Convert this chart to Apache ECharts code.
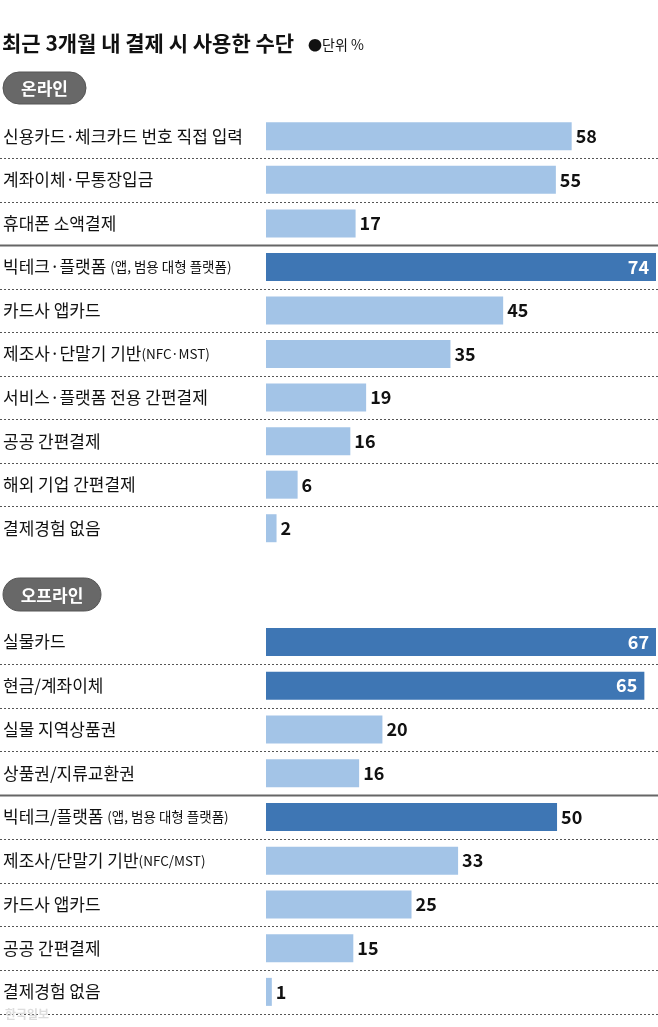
<!DOCTYPE html>
<html>
<head>
<meta charset="utf-8">
<script src="https://cdn.jsdelivr.net/npm/echarts@6/dist/echarts.min.js"></script>
<style>
  html, body { margin: 0; padding: 0; background: #fff; }
  #chart { width: 658px; height: 1027px; }
</style>
</head>
<body>
<div id="chart"></div>
<script>
// 데이터
const onlineNames = [
  '신용카드·체크카드 번호 직접 입력',
  '계좌이체·무통장입금',
  '휴대폰 소액결제',
  '빅테크·플랫폼 (앱, 범용 대형 플랫폼)',
  '카드사 앱카드',
  '제조사·단말기 기반(NFC·MST)',
  '서비스·플랫폼 전용 간편결제',
  '공공 간편결제',
  '해외 기업 간편결제',
  '결제경험 없음'
];
const onlineValues = [58, 55, 17, 74, 45, 35, 19, 16, 6, 2];

const offlineNames = [
  '실물카드',
  '현금/계좌이체',
  '실물 지역상품권',
  '상품권/지류교환권',
  '빅테크/플랫폼 (앱, 범용 대형 플랫폼)',
  '제조사/단말기 기반(NFC/MST)',
  '카드사 앱카드',
  '공공 간편결제',
  '결제경험 없음'
];
const offlineValues = [67, 65, 20, 16, 50, 33, 25, 15, 1];

// 진한 색으로 강조되는 항목
const onlineDark = ['빅테크·플랫폼 (앱, 범용 대형 플랫폼)'];
const offlineDark = ['실물카드', '현금/계좌이체', '빅테크/플랫폼 (앱, 범용 대형 플랫폼)'];

const FONT = "'Noto Sans CJK KR', 'Noto Sans', sans-serif";
const LIGHT = '#a3c4e7';
const DARK = '#3e76b4';

// 레이아웃
const W = 658;
const GRID_LEFT = 265;
const GRID_RIGHT = 2;
const TOP1 = 114.5, ROW1 = 43.55;
const TOP2 = 620, ROW2 = 43.75;

function labelFormatter(name) {
  const i = name.indexOf('(');
  if (i < 0) return '{a|' + name + '}';
  return '{a|' + name.slice(0, i) + '}{b|' + name.slice(i) + '}';
}

function buildData(names, values, darkList, max) {
  return values.map((v, i) => {
    const dark = darkList.includes(names[i]);
    const inside = dark && v / max > 0.9;
    return {
      value: v,
      itemStyle: { color: dark ? DARK : LIGHT },
      label: inside
        ? { position: 'insideRight', color: '#fff', distance: 7 }
        : { position: 'right', color: '#111', distance: 4 }
    };
  });
}

// 구분선
function separators(top, row, n, solidAfter, withEnd) {
  const out = [];
  const last = withEnd ? n : n - 1;
  for (let k = 1; k <= last; k++) {
    const y = Math.round(top + k * row) + 0.5;
    const solid = k === solidAfter;
    out.push({
      type: 'line',
      shape: { x1: 0, y1: y, x2: W, y2: y },
      style: solid
        ? { stroke: '#666', lineWidth: 2 }
        : { stroke: '#555', lineWidth: 1, lineDash: [2, 2] },
      z: 0
    });
  }
  return out;
}

function pill(x, y, w, h, text) {
  return [
    {
      type: 'rect',
      shape: { x: x, y: y, width: w, height: h, r: h / 2 },
      style: { fill: '#686868', stroke: '#555', lineWidth: 1 }
    },
    {
      type: 'text',
      x: x + w / 2,
      y: y + h / 2 + 1,
      style: {
        text: text, fill: '#fff', font: 'bold 17px ' + FONT,
        textAlign: 'center', textVerticalAlign: 'middle'
      }
    }
  ];
}

const max1 = Math.max(...onlineValues);
const max2 = Math.max(...offlineValues);

const chart = echarts.init(document.getElementById('chart'), null, { renderer: 'canvas' });

const yLabel = {
  align: 'left',
  margin: GRID_LEFT - 2,
  formatter: labelFormatter,
  rich: {
    a: { fontFamily: FONT, fontSize: 17, color: '#111' },
    b: { fontFamily: FONT, fontSize: 13.5, color: '#111' }
  }
};

chart.setOption({
  animation: false,
  backgroundColor: '#fff',
  grid: [
    { left: GRID_LEFT, right: GRID_RIGHT, top: TOP1, height: ROW1 * onlineNames.length },
    { left: GRID_LEFT, right: GRID_RIGHT, top: TOP2, height: ROW2 * offlineNames.length }
  ],
  xAxis: [
    { gridIndex: 0, type: 'value', min: 0, max: max1, show: false },
    { gridIndex: 1, type: 'value', min: 0, max: max2, show: false }
  ],
  yAxis: [
    {
      gridIndex: 0, type: 'category', data: onlineNames, inverse: true,
      axisLine: { show: false }, axisTick: { show: false }, axisLabel: yLabel
    },
    {
      gridIndex: 1, type: 'category', data: offlineNames, inverse: true,
      axisLine: { show: false }, axisTick: { show: false }, axisLabel: yLabel
    }
  ],
  series: [
    {
      type: 'bar', xAxisIndex: 0, yAxisIndex: 0, barWidth: 28,
      data: buildData(onlineNames, onlineValues, onlineDark, max1),
      label: { show: true, fontFamily: FONT, fontSize: 18, fontWeight: 'bold' }
    },
    {
      type: 'bar', xAxisIndex: 1, yAxisIndex: 1, barWidth: 28,
      data: buildData(offlineNames, offlineValues, offlineDark, max2),
      label: { show: true, fontFamily: FONT, fontSize: 18, fontWeight: 'bold' }
    }
  ],
  graphic: [
    {
      type: 'text', left: 2, top: 33,
      style: { text: '최근 3개월 내 결제 시 사용한 수단', fill: '#111', font: 'bold 21px ' + FONT }
    },
    {
      type: 'text', left: 308, top: 38,
      style: { text: '●단위 %', fill: '#111', font: '14px ' + FONT }
    },
    ...pill(3, 72, 83, 32, '온라인'),
    ...pill(3, 578, 98, 33, '오프라인'),
    ...separators(TOP1, ROW1, onlineNames.length, 3, false),
    ...separators(TOP2, ROW2, offlineNames.length, 4, true),
    {
      type: 'text', left: 5, top: 1008,
      style: { text: '한국일보', fill: '#ddd', font: 'bold 12px ' + FONT }
    }
  ]
});
</script>
</body>
</html>
